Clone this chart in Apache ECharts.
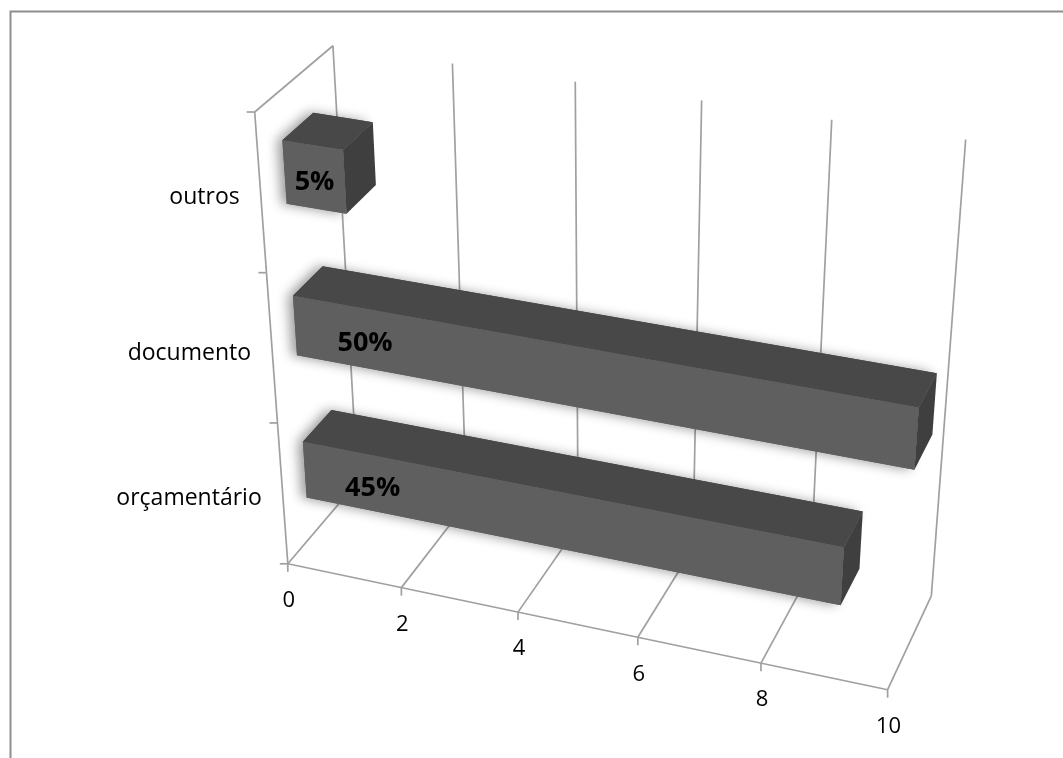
<!DOCTYPE html>
<html>
<head>
<meta charset="utf-8">
<script src="https://cdn.jsdelivr.net/npm/echarts@6/dist/echarts.min.js"></script>
<style>
html,body{margin:0;padding:0;background:#ffffff;}
#main{width:1063px;height:758px;}
</style>
</head>
<body>
<div id="main"></div>
<script>
// ---------------- data ----------------
const categories = ['orçamentário', 'documento', 'outros'];
const values = [9, 10, 1];
const percentLabels = ['45%', '50%', '5%'];
const xTicks = [0, 2, 4, 6, 8, 10];
const xMin = 0;
const xMax = 10;

// ---------------- 3D frame (perspective camera fitted to the plot box) ----------------
// world: u = along value axis (0..1), h = height (0..1), d = depth (0 front .. 1 back)
const FRAME_FIT = [
  [0,0,0, 291.7,561.7],[0.2,0,0, 403.3,588.3],[0.4,0,0, 520,611.7],[0.6,0,0, 638.3,636.7],
  [0.8,0,0, 760,663.3],[1,0,0, 886.7,691.7],[0,0,1, 355,483],[1,0,1, 931.7,595],
  [0,1,1, 335,47],[0.2,1,1, 453,63],[0.4,1,1, 575,81],[0.6,1,1, 702,100],[0.8,1,1, 832,120],
  [1,1,1, 965,139],[0,1,0, 257,112],[0,1/3,0, 273.3,422.7],[0,2/3,0, 261.7,273.3]
];
const BAR_DEPTH = [0.3, 0.7];
const BAR_RATIO = 0.4;
const LABEL_MAX_OFFSET = 1.2;

function fitCamera(pairs) {
  const S = 1000, n = 11;
  const M = [];
  for (let i = 0; i < n; i++) M.push(new Array(n + 1).fill(0));
  const addRow = (a, b) => {
    for (let i = 0; i < n; i++) {
      for (let j = 0; j < n; j++) M[i][j] += a[i] * a[j];
      M[i][n] += a[i] * b;
    }
  };
  pairs.forEach(([X, Y, Z, x, y]) => {
    x /= S; y /= S;
    addRow([X, Y, Z, 1, 0, 0, 0, 0, -x * X, -x * Y, -x * Z], x);
    addRow([0, 0, 0, 0, X, Y, Z, 1, -y * X, -y * Y, -y * Z], y);
  });
  for (let c = 0; c < n; c++) {
    let piv = c;
    for (let r = c + 1; r < n; r++) if (Math.abs(M[r][c]) > Math.abs(M[piv][c])) piv = r;
    const tmp = M[c]; M[c] = M[piv]; M[piv] = tmp;
    for (let r = 0; r < n; r++) {
      if (r === c) continue;
      const f = M[r][c] / M[c][c];
      for (let k = c; k <= n; k++) M[r][k] -= f * M[c][k];
    }
  }
  const p = M.map((row, i) => row[n] / row[i]);
  return function (X, Y, Z) {
    const w = p[8] * X + p[9] * Y + p[10] * Z + 1;
    return [S * (p[0] * X + p[1] * Y + p[2] * Z + p[3]) / w,
            S * (p[4] * X + p[5] * Y + p[6] * Z + p[7]) / w];
  };
}
const P = fitCamera(FRAME_FIT);

const LINE = { stroke: '#a0a0a0', lineWidth: 1.7 };
const FONT = '"Open Sans", "Noto Sans", sans-serif';

function uOf(api, cs, v, idx) { return (api.coord([v, idx])[0] - cs.x) / cs.width; }
function hOf(api, cs, v, idx) { return (cs.y + cs.height - api.coord([v, idx])[1]) / cs.height; }
function seg(a, b) {
  return { type: 'line', shape: { x1: a[0], y1: a[1], x2: b[0], y2: b[1] }, style: LINE };
}
function poly(pts, fill, extra) {
  return { type: 'polygon', shape: { points: pts }, style: Object.assign({ fill: fill, stroke: null }, extra || {}) };
}

// value axis: floor gridlines, back-wall gridlines, ticks, labels
function renderValueAxis(params, api) {
  const cs = params.coordSys;
  const t = api.value(0);
  const u = uOf(api, cs, t, 0);
  const front = P(u, 0, 0), back = P(u, 0, 1), top = P(u, 1, 1);
  const children = [
    seg(front, back), seg(back, top),
    seg(front, [front[0], front[1] + 8]),
    { type: 'text', style: { text: String(t), x: front[0] + 1, y: front[1] + 37,
      fill: '#000', font: '22px ' + FONT, align: 'center', verticalAlign: 'middle' } }
  ];
  if (params.dataIndex === 0) {
    children.push(seg(P(0, 0, 0), P(1, 0, 0)));
  }
  return { type: 'group', children: children };
}

// category axis: left edge, ticks, labels
function renderCategoryAxis(params, api) {
  const cs = params.coordSys;
  const idx = api.value(1);
  const hc = hOf(api, cs, 0, idx);
  const band = api.size([0, 1])[1] / cs.height;
  const lo = P(0, hc - band / 2, 0), hi = P(0, hc + band / 2, 0), mid = P(0, hc, 0);
  const children = [
    seg(lo, hi),
    seg(lo, [lo[0] - 8, lo[1]]),
    { type: 'text', style: { text: categories[idx], x: mid[0] - 21, y: mid[1] + 4,
      fill: '#000', font: '23px ' + FONT, align: 'right', verticalAlign: 'middle' } }
  ];
  if (idx === categories.length - 1) {
    children.push(seg(hi, [hi[0] - 8, hi[1]]));
    children.push(seg(hi, P(0, hc + band / 2, 1)));
  }
  return { type: 'group', children: children };
}

// 3D bars
function renderBar(params, api) {
  const cs = params.coordSys;
  const v = api.value(0), idx = api.value(1);
  const u0 = uOf(api, cs, xMin, idx), u1 = uOf(api, cs, v, idx);
  const hc = hOf(api, cs, v, idx);
  const half = api.size([0, 1])[1] / cs.height * BAR_RATIO / 2;
  const h0 = hc - half, h1 = hc + half;
  const d0 = BAR_DEPTH[0], d1 = BAR_DEPTH[1];
  const shadow = { shadowBlur: 12, shadowColor: 'rgba(0,0,0,0.4)', shadowOffsetX: -5, shadowOffsetY: 0 };
  const front = [P(u0, h0, d0), P(u1, h0, d0), P(u1, h1, d0), P(u0, h1, d0)];
  const topF = [P(u0, h1, d0), P(u1, h1, d0), P(u1, h1, d1), P(u0, h1, d1)];
  const right = [P(u1, h0, d0), P(u1, h0, d1), P(u1, h1, d1), P(u1, h1, d0)];
  const labelU = uOf(api, cs, Math.min(v / 2, LABEL_MAX_OFFSET), idx);
  const lp = P(labelU, hc, d0);
  return {
    type: 'group',
    children: [
      poly(topF, '#484848', shadow),
      poly(front, '#5f5f5f', shadow),
      poly(topF, '#484848'),
      poly(front, '#5f5f5f'),
      poly(right, '#3f3f3f'),
      { type: 'text', style: { text: percentLabels[idx], x: lp[0], y: lp[1] + 5,
        fill: '#000', font: 'bold 27px ' + FONT, align: 'center', verticalAlign: 'middle' } }
    ]
  };
}

const chart = echarts.init(document.getElementById('main'), null, { renderer: 'canvas' });
chart.setOption({
  backgroundColor: '#ffffff',
  animation: false,
  graphic: [{
    type: 'rect', left: 8, top: 9, shape: { width: 1100, height: 800 },
    style: { fill: null, stroke: '#8e8e8e', lineWidth: 2 }, silent: true
  }],
  grid: { left: 100, right: 100, top: 100, bottom: 100 },
  xAxis: { type: 'value', min: xMin, max: xMax, interval: 2, show: false },
  yAxis: { type: 'category', data: categories, show: false },
  series: [
    { type: 'custom', renderItem: renderValueAxis, encode: { x: 0, y: 1 },
      data: xTicks.map(t => [t, 0]), z: 1, silent: true },
    { type: 'custom', renderItem: renderCategoryAxis, encode: { x: 0, y: 1 },
      data: categories.map((c, i) => [0, i]), z: 2, silent: true },
    { type: 'custom', renderItem: renderBar, encode: { x: 0, y: 1 },
      data: values.map((v, i) => [v, i]), z: 3, silent: true }
  ]
});
</script>
</body>
</html>
